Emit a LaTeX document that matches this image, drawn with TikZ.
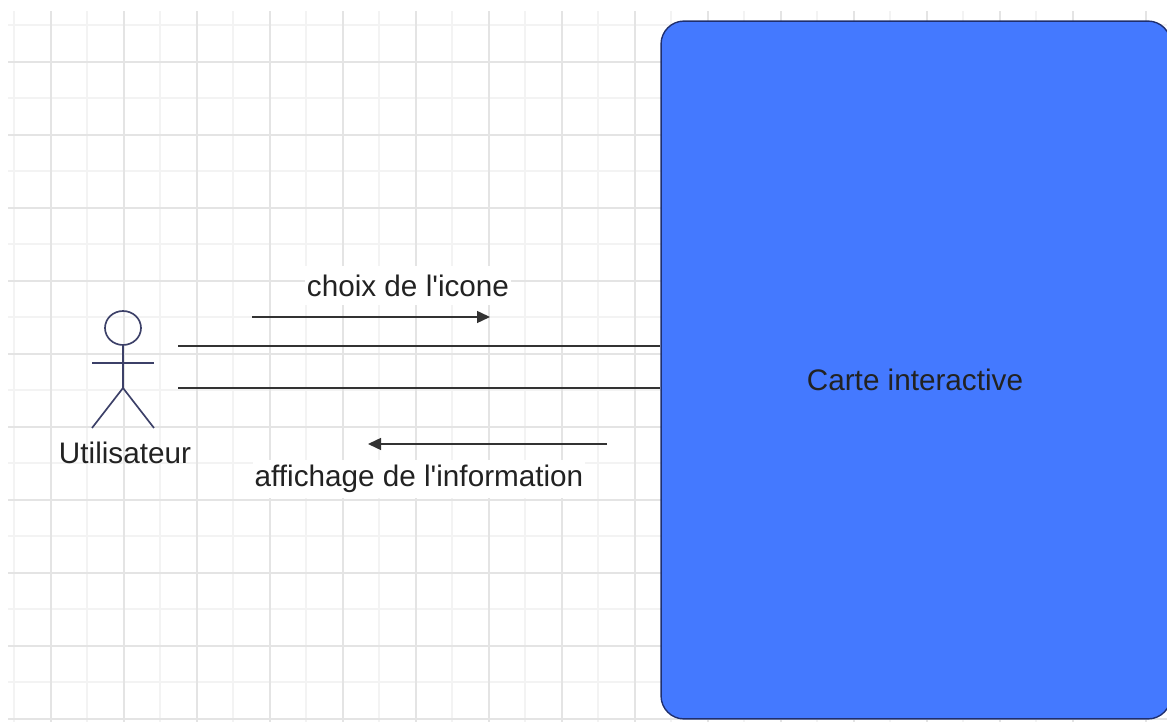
\documentclass[tikz,border=0pt]{standalone}
\usepackage{fontspec}
\usetikzlibrary{shapes.geometric, arrows.meta}
\setmainfont[Ligatures=TeXOff]{Liberation Sans}
\definecolor{gridlight}{HTML}{F3F3F3}
\definecolor{griddark}{HTML}{E4E4E4}
\definecolor{cartefill}{HTML}{4479FF}
\definecolor{carteline}{HTML}{1F2F6E}
\definecolor{actorline}{HTML}{3C4068}
\definecolor{inktext}{HTML}{222222}
\tikzset{
    label text/.style={font=\fontsize{16.9pt}{20pt}\selectfont, text=inktext, inner sep=1pt},
    link/.style={draw=black!80, line width=0.8pt},
    flow/.style={link, -{Triangle[length=0.26cm, width=0.24cm]}},
    actor/.style={draw=actorline, line width=0.95pt},
}
\begin{document}
\begin{tikzpicture}[x=0.02cm, y=-0.02cm]
    \useasboundingbox (0, 0) rectangle (1167, 722);
    % grid
    \foreach \x in {14, 87, ..., 1100} \draw[gridlight, line width=0.9pt] (\x, 11) -- (\x, 722);
    \foreach \y in {25, 98, ..., 700} \draw[gridlight, line width=0.9pt] (8, \y) -- (1167, \y);
    \foreach \x in {51, 124, ..., 1167} \draw[griddark, line width=0.9pt] (\x, 11) -- (\x, 722);
    \foreach \y in {62, 135, ..., 722} \draw[griddark, line width=0.9pt] (8, \y) -- (1167, \y);
    % box
    \node[draw=carteline, fill=cartefill, rounded corners=0.46cm, line width=0.8pt, minimum width=10.2cm, minimum height=13.96cm] (carte) at (916, 370) {};
    \node[label text] (cartelabel) at (915, 380) {Carte interactive};
    % actor
    \node[actor, ellipse, minimum width=0.72cm, minimum height=0.68cm, inner sep=0pt] (head) at (123, 328) {};
    \coordinate (hip) at (123, 388);
    \coordinate (armL) at (92, 363);
    \coordinate (armR) at (154, 363);
    \coordinate (legL) at (92, 428);
    \coordinate (legR) at (154, 428);
    \draw[actor] (head) -- (hip);
    \draw[actor] (armL) -- (armR);
    \draw[actor] (legL) -- (hip) -- (legR);
    \node[label text] (user) at (125, 453) {Utilisateur};
    % links
    \coordinate (startA) at (178, 346);
    \coordinate (startB) at (178, 388);
    \draw[link] (startA) -- (startA -| carte.west);
    \draw[link] (startB) -- (startB -| carte.west);
    \node[label text, fill=white, minimum height=0.78cm] (choix) at (408, 286) {choix de l'icone};
    \node[label text, fill=white, minimum height=0.78cm] (affichage) at (419, 479) {affichage de l'information};
    \coordinate (choixA) at (252, 317);
    \coordinate (choixB) at (490, 317);
    \coordinate (affichA) at (607, 444);
    \coordinate (affichB) at (368, 444);
    \draw[flow] (choixA) -- (choixB);
    \draw[flow] (affichA) -- (affichB);
\end{tikzpicture}
\end{document}
